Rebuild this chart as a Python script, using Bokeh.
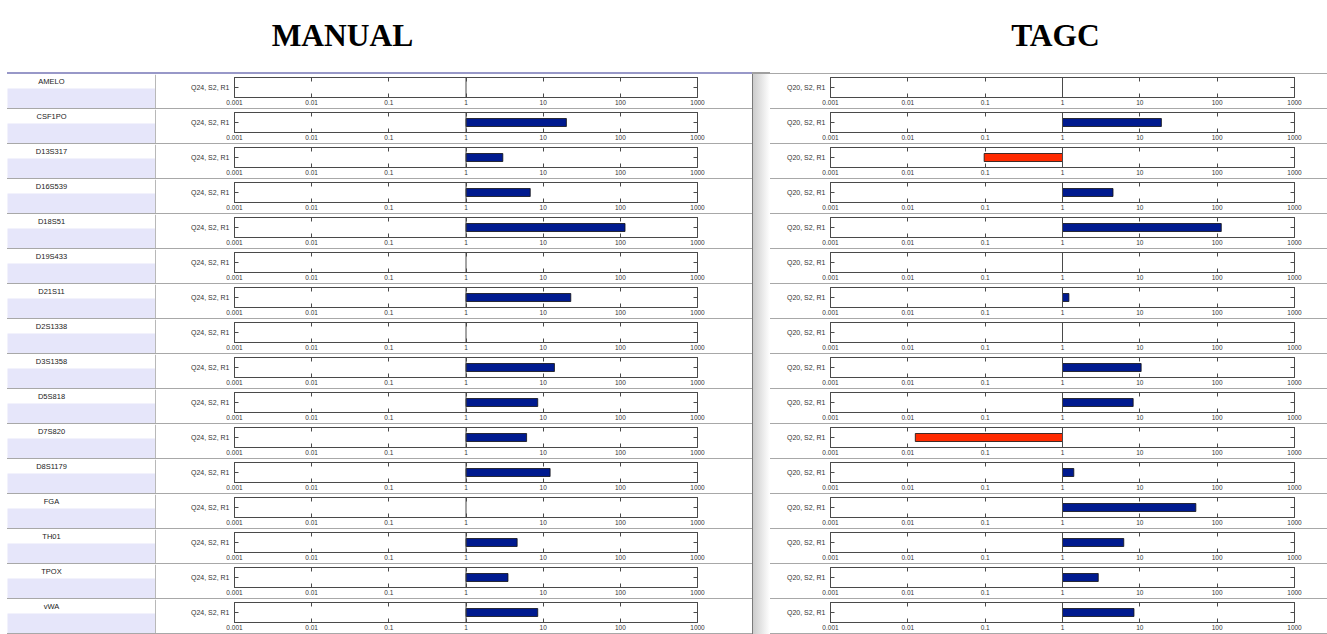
from bokeh.plotting import figure
from bokeh.models import Range1d, FixedTicker, LogAxis, LinearAxis, Span, Div
from bokeh.layouts import column, row
from bokeh.embed import file_html
from bokeh.resources import INLINE
from bokeh.core.properties import value

# STR loci, one row each
loci = ["AMELO", "CSF1PO", "D13S317", "D16S539", "D18S51", "D19S433", "D21S11", "D2S1338",
        "D3S1358", "D5S818", "D7S820", "D8S1179", "FGA", "TH01", "TPOX", "vWA"]
# ratio per locus (None = no bar drawn)
manual_ratio = [None, 20, 3.0, 6.8, 115, None, 22.8, None, 14, 8.5, 6.1, 12.3, None, 4.6, 3.5, 8.5]
tagc_ratio = [None, 19, 0.097, 4.5, 113, None, 1.21, None, 10.4, 8.2, 0.0125, 1.4, 53, 6.2, 2.9, 8.4]

x_ticks = [0.001, 0.01, 0.1, 1, 10, 100, 1000]
x_tick_labels = ["0.001", "0.01", "0.1", "1", "10", "100", "1000"]
panel_titles = ["MANUAL", "TAGC"]
run_labels = ["Q24, S2, R1", "Q20, S2, R1"]

ROW_H = 34          # one locus row; a 1px rule follows it
NAVY = "#001a8f"
RED = "#ff2a00"
FRAME = "#4a4a4a"
FONT = "Liberation Sans"


def hide_labels(axis):
    axis.major_label_text_font_size = "0px"
    axis.major_label_text_color = None
    axis.major_label_standoff = 0


def ratio_plot(ratio, run_label, width, b_left, b_right):
    p = figure(width=width, height=ROW_H, x_axis_type="log", title=None,
               x_range=Range1d(x_ticks[0], x_ticks[-1]), y_range=Range1d(0, 1),
               x_axis_location=None, y_axis_location=None,
               min_border_left=b_left, min_border_right=b_right,
               min_border_top=3, min_border_bottom=11,
               toolbar_location=None, output_backend="svg")
    p.grid.visible = False
    p.outline_line_color = FRAME
    p.background_fill_color = "white"
    p.border_fill_color = "white"

    xt = FixedTicker(ticks=x_ticks)
    xcommon = dict(ticker=xt, major_tick_in=4, major_tick_out=0, minor_tick_line_color=None,
                   axis_line_color=FRAME, major_tick_line_color=FRAME)
    bottom = LogAxis(**xcommon, major_label_overrides=dict(zip(x_ticks, x_tick_labels)),
                     major_label_standoff=2, major_label_text_font=FONT,
                     major_label_text_font_size="6.5px", major_label_text_color="#333333")
    top = LogAxis(**xcommon)
    hide_labels(top)

    yt = FixedTicker(ticks=[0.5])
    ycommon = dict(ticker=yt, major_tick_in=4, major_tick_out=0, minor_tick_line_color=None,
                   axis_line_color=FRAME, major_tick_line_color=FRAME)
    left = LinearAxis(**ycommon, major_label_overrides={0.5: run_label}, major_label_standoff=5,
                      major_label_text_font=FONT, major_label_text_font_size="7px",
                      major_label_text_color="#333333")
    right = LinearAxis(**ycommon)
    hide_labels(right)

    p.add_layout(bottom, "below")
    p.add_layout(top, "above")
    p.add_layout(left, "left")
    p.add_layout(right, "right")

    if ratio is not None:
        p.hbar(y=[0.5], left=[min(ratio, 1)], right=[max(ratio, 1)], height=0.4,
               fill_color=NAVY if ratio >= 1 else RED, line_color="#101010", line_width=0.8)
    p.add_layout(Span(location=1, dimension="height", line_color=FRAME, line_width=1))
    return p


def name_cell(name):
    p = figure(width=160, height=ROW_H, x_range=Range1d(0, 160), y_range=Range1d(ROW_H, 0),
               min_border=0, x_axis_location=None, y_axis_location=None, title=None,
               toolbar_location=None, output_backend="svg")
    p.grid.visible = False
    p.outline_line_color = None
    p.quad(left=7, right=155, top=14, bottom=ROW_H, fill_color="#e6e6fa", line_color=None)
    p.segment(x0=155, y0=0, x1=155, y1=ROW_H, line_color="#b8b8b8", line_width=1)
    p.text(x=[51], y=[7], text=[name], text_align="center", text_baseline="middle",
           text_font=value(FONT), text_font_size="7.5px", text_color="#1a1a1a")
    return p


def strip(width, height, style):
    return Div(text="", width=width, height=height, margin=0, styles={"background": style})


# panel headings
title_fig = figure(width=1327, height=72, x_range=Range1d(0, 1327), y_range=Range1d(72, 0),
                   min_border=0, x_axis_location=None, y_axis_location=None, title=None,
                   toolbar_location=None, output_backend="svg")
title_fig.grid.visible = False
title_fig.outline_line_color = None
title_fig.text(x=[342, 1055], y=[35, 35], text=panel_titles, text_align="center",
               text_baseline="alphabetic", text_font=value("Liberation Serif"),
               text_font_style="bold", text_font_size="31.5px", text_color="black")

top_lines = row(
    strip(752, 2, "linear-gradient(to right, #ffffff 7px, #9898c8 7px)"),
    strip(18, 2, "#a0a0a0"),
    strip(557, 2, "linear-gradient(to bottom, #ffffff 1px, #a8a8a8 1px)"),
)

name_rows, left_rows, right_rows = [], [], []
for name, m, t in zip(loci, manual_ratio, tagc_ratio):
    name_rows.append(name_cell(name))
    name_rows.append(strip(160, 1, "linear-gradient(to right, #ffffff 7px, #a8a8a8 7px)"))
    left_rows.append(ratio_plot(m, run_labels[0], 592, 74, 55))
    left_rows.append(strip(592, 1, "#a8a8a8"))
    right_rows.append(ratio_plot(t, run_labels[1], 557, 60, 33))
    right_rows.append(strip(557, 1, "#a8a8a8"))

divider = strip(18, len(loci) * (ROW_H + 1),
                "linear-gradient(to right, #7a7a7a 0px, #7a7a7a 1px, #cccccc 1px, #ffffff 100%)")

body = row(column(*name_rows), column(*left_rows), divider, column(*right_rows))
page = column(title_fig, top_lines, body)

open("out.html", "w").write(file_html(page, INLINE))
